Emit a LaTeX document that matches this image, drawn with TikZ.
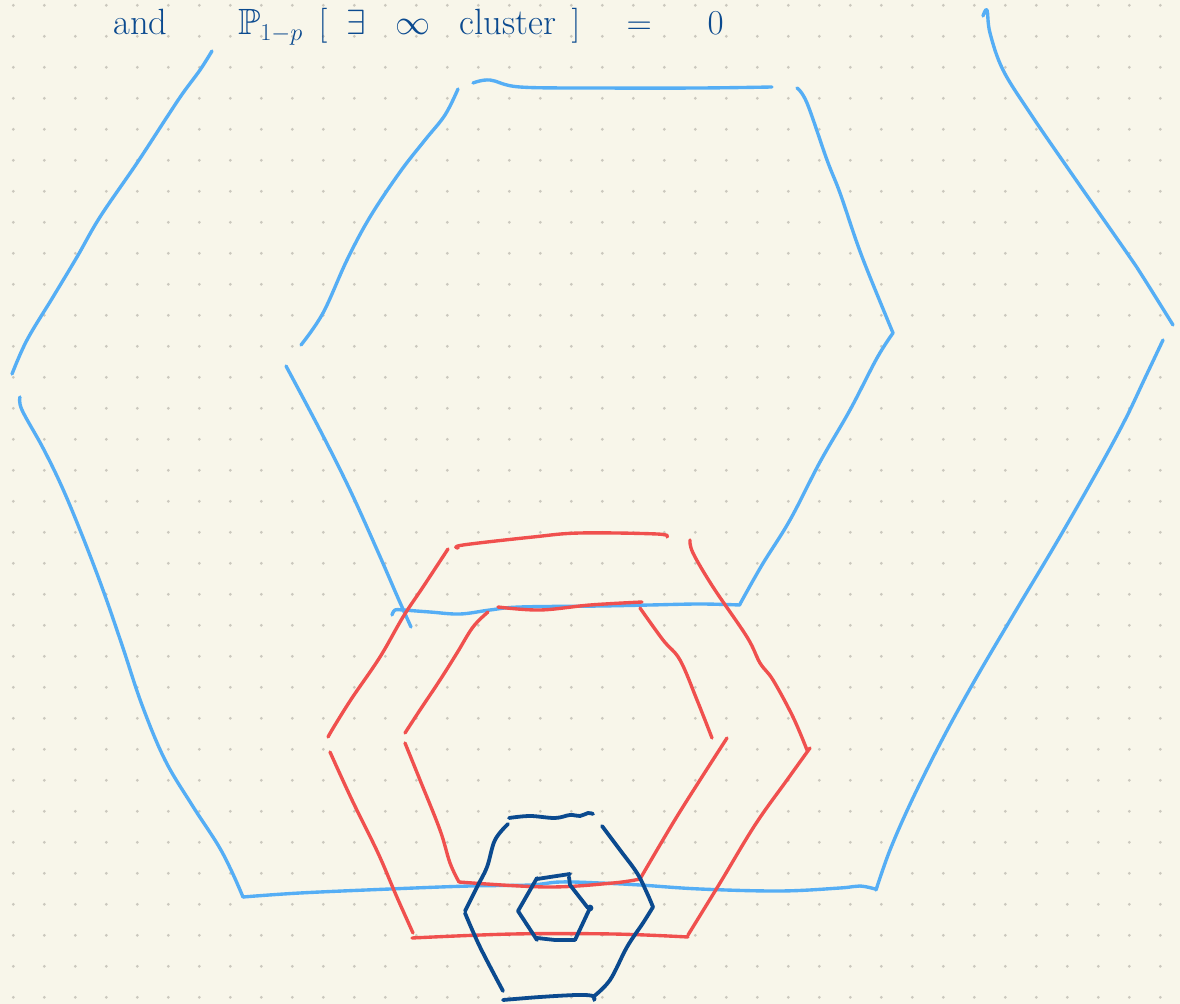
\documentclass[tikz,border=0pt]{standalone}
\usepackage{amsmath,amssymb}
\usepackage{tikz}
\usetikzlibrary{positioning}
\definecolor{papel}{HTML}{F8F6EA}
\definecolor{punto}{HTML}{CBC8BE}
\definecolor{celeste}{HTML}{55AEF5}
\definecolor{rojo}{HTML}{F0504E}
\definecolor{marino}{HTML}{0B4A8F}

\begin{document}
\begin{tikzpicture}[x=0.025cm, y=-0.025cm,
  trazo/.style={line width=2.4pt, line cap=round, line join=round},
  azul/.style={trazo, draw=celeste},
  roja/.style={trazo, draw=rojo},
  oscura/.style={trazo, line width=2.7pt, draw=marino},
  texto/.style={text=marino, font=\fontsize{26}{32}\selectfont, inner sep=0pt}
]

% -------- Hoja punteada --------
\useasboundingbox (0,0) rectangle (1180,1004);
\clip (0,0) rectangle (1180,1004);
\fill[papel] (0,0) rectangle (1180,1004);
\foreach \i in {0,...,37}
  \foreach \j in {0,...,32}
    \fill[punto] (13.3+31*\i, 5.3+31*\j) circle[radius=1.1pt];

% -------- Texto de arriba --------
\node[texto, anchor=base west] (y) at (113,35) {and};
\node[texto, base right=1.75cm of y] (prob)
  {$\mathbb{P}_{1-p}\;\,[\;\;\exists\;\;\;\infty\;\;\;\text{cluster}\;\,]\quad=\quad\;0$};

% -------- Hexagono grande (celeste) --------
\draw[azul] plot[smooth, tension=0.6] coordinates {(212,51) (200,70) (183,93) (167,117) (137,163) (100,217) (77,257) (53,297) (27,340) (12,374)};
\draw[azul] plot[smooth, tension=0.6] coordinates {(20,397) (22,410) (43,448) (62,487) (82,535) (103,590) (122,645) (142,705) (165,760) (192,805) (218,845) (232,872) (243,897)};
\draw[azul] plot[smooth, tension=0.6] coordinates {(243,897) (300,893) (390,889) (470,886) (530,885) (560,882) (600,883) (640,885) (700,889) (780,891) (840,888) (860,886) (875,889)};
\draw[azul] plot[smooth, tension=0.6] coordinates {(876,890) (890,850) (912,800) (942,740) (975,680) (1015,612) (1058,540) (1098,470) (1125,420) (1145,378) (1163,340)};
\draw[azul] plot[smooth, tension=0.6] coordinates {(983,16) (987,10) (990,33) (1003,70) (1030,113) (1067,167) (1127,253) (1143,277) (1173,325)};

% -------- Hexagono mediano (celeste) --------
\draw[azul] plot[smooth, tension=0.6] coordinates {(473,83) (490,80) (520,87) (600,88) (700,88) (772,87)};
\draw[azul] plot[smooth, tension=0.6] coordinates {(458,89) (445,115) (425,140) (400,172) (370,217) (347,260) (323,313) (301,345)};
\draw[azul] plot[smooth, tension=0.6] coordinates {(286,366) (320,430) (350,490) (378,552) (398,598) (411,627)};
\draw[azul] plot[smooth, tension=0.6] coordinates {(392,615) (395,610) (403,610) (430,612) (460,614) (490,610) (520,607) (600,606) (650,605) (700,604) (740,605)};
\draw[azul] plot[smooth, tension=0.6] coordinates {(740,604) (762,565) (790,520) (820,462) (850,410) (877,358) (893,333)};
\draw[azul] plot[smooth, tension=0.6] coordinates {(797,88) (807,103) (827,160) (840,193) (857,243) (870,277) (893,333)};

% -------- Hexagono rojo de afuera --------
\draw[roja] plot[smooth, tension=0.6] coordinates {(458,548) (463,545) (533,537) (580,533) (657,534) (667,537)};
\draw[roja] plot[smooth, tension=0.6] coordinates {(448,549) (423,587) (403,617) (380,657) (352,698) (335,725) (328,737)};
\draw[roja] plot[smooth, tension=0.6] coordinates {(330,752) (352,800) (378,853) (396,895) (413,933)};
\draw[roja] plot[smooth, tension=0.6] coordinates {(412,938) (513,934) (613,934) (688,937)};
\draw[roja] plot[smooth, tension=0.6] coordinates {(688,935) (720,883) (755,825) (787,780) (810,748)};
\draw[roja] plot[smooth, tension=0.6] coordinates {(690,540) (693,553) (713,587) (747,637) (760,663) (773,680) (793,717) (807,750)};

% -------- Hexagono rojo de adentro --------
\draw[roja] plot[smooth, tension=0.6] coordinates {(498,607) (540,610) (590,605) (642,602)};
\draw[roja] plot[smooth, tension=0.6] coordinates {(488,612) (473,627) (457,653) (440,680) (420,710) (405,733)};
\draw[roja] plot[smooth, tension=0.6] coordinates {(405,743) (420,780) (440,830) (450,863) (459,882)};
\draw[roja] plot[smooth, tension=0.6] coordinates {(459,882) (547,887) (613,883) (640,879)};
\draw[roja] plot[smooth, tension=0.6] coordinates {(640,879) (673,823) (700,780) (727,738)};
\draw[roja] plot[smooth, tension=0.6] coordinates {(640,608) (663,640) (680,660) (697,700) (712,738)};

% -------- Hexagono azul oscuro --------
\draw[oscura] plot[smooth, tension=0.6] coordinates {(509,818) (530,816) (555,818) (570,815) (580,816) (588,813) (593,814)};
\draw[oscura] plot[smooth, tension=0.6] coordinates {(508,824) (495,840) (487,867) (477,887) (465,911)};
\draw[oscura] plot[smooth, tension=0.6] coordinates {(465,913) (480,947) (503,991)};
\draw[oscura] plot[smooth, tension=0.6] coordinates {(503,1000) (540,997) (577,995) (593,996) (594,1000)};
\draw[oscura] plot[smooth, tension=0.6] coordinates {(593,997) (610,980) (627,947) (643,923) (653,907)};
\draw[oscura] plot[smooth, tension=0.6] coordinates {(602,826) (620,850) (637,873) (647,893) (653,907)};

% -------- Hexagono chiquito --------
\draw[oscura] (537,879) -- (550,877) -- (570,874);
\draw[oscura] (537,878) -- (518,911) -- (537,940);
\draw[oscura] (537,938) -- (555,940) -- (575,940);
\draw[oscura] (575,940) -- (590,908);
\draw[oscura] (569,877) -- (570,885) -- (588,908);
\fill[marino] (590,908) circle[radius=2.4pt];

\end{tikzpicture}
\end{document}
